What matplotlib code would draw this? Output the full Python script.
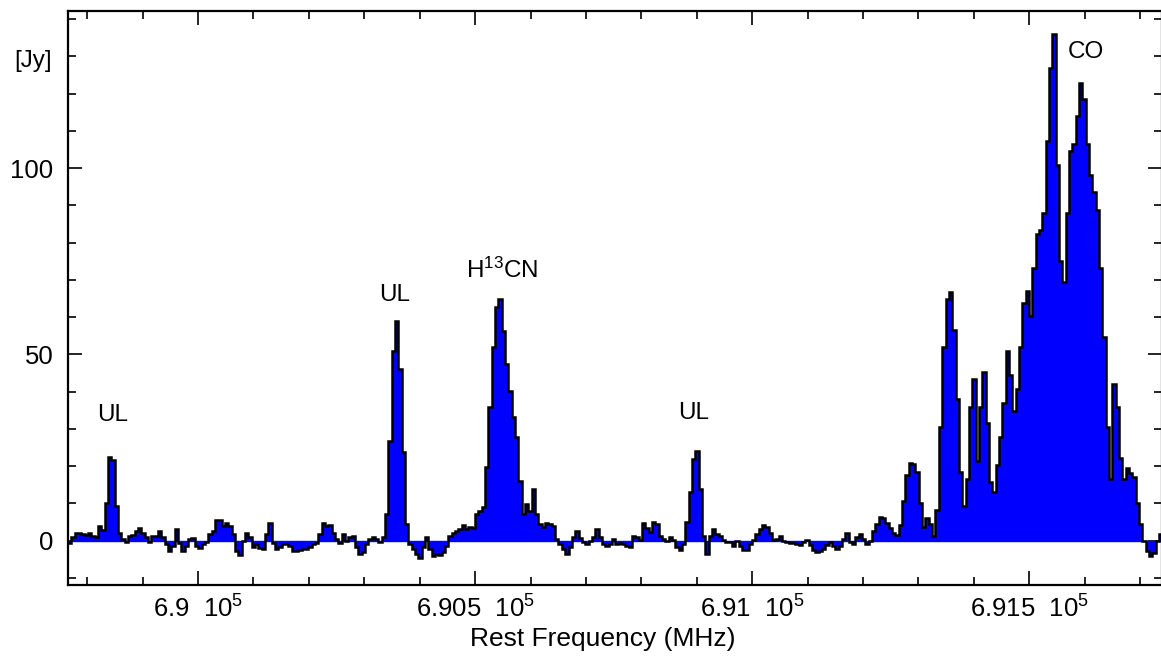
import numpy as np
import matplotlib
matplotlib.use("Agg")
import matplotlib.pyplot as plt
from matplotlib.ticker import MultipleLocator, FixedLocator, FixedFormatter

plt.rcParams['font.family'] = ['Liberation Sans', 'DejaVu Sans']
plt.rcParams['mathtext.fontset'] = 'custom'
plt.rcParams['mathtext.rm'] = 'Liberation Sans'
plt.rcParams['mathtext.it'] = 'Liberation Sans:italic'
plt.rcParams['mathtext.bf'] = 'Liberation Sans:bold'

# ---- spectral axis (MHz) ----
freq_start = 689765.5
chan_width = 6.02

# ---- flux density per channel (Jy), left to right ----
flux_seg1 = [-0.5, 1, 2, 2, 1.8, 1.5, 2, 1.3, 0.9, 4,
             3, 10, 22.5, 21.7, 9.4, 2, 0.5, -0.3, 1.3, 1.5,
             2.7, 3.3, 2.2, 0.9, -0.4, 1.3, 1.2, 2.7, 0.9, -0.9,
             -2.7, -1.3, 3.1, -0.5, -2.7, -1.3, 0.5, 0.8, -1.3, -2,
             -0.9, -0.3, 1.8, 2.7, 5.6, 5.6, 4, 4.7, 4, 1.8,
             -2.7, -3.8, 0, 2.2, 0.9, -1.8, -0.9, -2, -2.2, 1.8,
             4.7, -0.5, -2.2, -1.8, -1, -1, -1.3, -2.7, -2.7, -2.5,
             -2.3, -2.2, -1.8, -1, -0.5, 1.8, 4.7, 4, 4.2, 2.2,
             0.5, -0.5, 1.8, 0]
flux_seg2 = [0.9, 1.3, -1.8, -3.6, -3.1, -0.9, 0.4, 0.9, 0.4, -0.4,
             0.9, 7.2, 26.9, 51, 59, 46, 23.7, 4.5, -0.9, -2.2,
             -3.6, -4.5, -1.8, 0.9, -2.2, -4, -3.6, -3.8, -3.1, -1.3,
             1.3, 2.2, 2.7, 3.1, 4.3, 3.1, 3.6, 3.4, 7.2, 8,
             9, 19.7, 35.8, 52, 62.7, 65, 56.4, 47.4, 40.3, 33.1,
             27.8, 16.1, 7.2, 9.8, 8, 13.9, 7.2, 4.5, 3.6, 4.7,
             4.5, 4, 0.4, -0.9, -2.2, -3.6, -1.8, 0.9, 2.5, 0.7,
             -0.4, -0.9, 0, 0.9, 3.1, 1.1, -0.9, -1.3, -0.9, 0.4,
             -0.9]
flux_seg3 = [-0.6, -0.9, -1.5, -1.8, 1.3, 0.9, 0.3, 4.7, 3.5, 2.4,
             5.1, 4.5, 1.3, 0.6, 0, 0.9, 0.3, -1.8, -2.4, -0.9,
             4.9, 13, 21.9, 24.2, 13.9, 1.3, -3.6, 1.3, 3.1, 1.8,
             1.3, 0.3, -0.4, -0.4, -1.3, 0, -1.5, -2.4, -2.4, -0.9,
             0.3, 1.8, 3.1, 4.2, 3.6, 2.1, 0.3, 0.6, 1.2, 0,
             -0.4, -0.6, -0.6, -0.9, -1.2, -0.3, 0.3, -1.2, -2.4, -3.1,
             -2.7, -2.1, -1.2, -0.4, -1.3, -2.2, -1.3, 0.4, 2.1, -0.4,
             -0.9, 0.9, 1.8, 0.4, -0.9, 0, 2.7, 4.5, 6.5, 6,
             4.7, 3.3, 2.2, 1.5]
flux_seg4 = [4.2, 10.6, 17.6, 20.8, 20.6, 18.5, 10.2, 3.7, 6, 4.6,
             1.4, 8.3, 30.6, 51.9, 64.8, 66.7, 56.5, 38, 18.5, 9.3,
             16.7, 36, 43.5, 21.3, 36, 45.4, 31.5, 15.7, 13, 20.4,
             27.8, 37, 50.9, 44.4, 34.7, 40.7, 51.9, 63.9, 67.1, 60.2,
             73.1, 82.4, 83.3, 88, 107.4, 127, 136, 100.9, 75, 69.4,
             88, 104.6, 106.5, 113.9, 123, 118.5, 106.5, 98.1, 93.5, 88.9,
             73.1, 54.6, 30.6, 16.7, 42, 36, 22.2, 16.7, 19.4, 18.3,
             17.1, 10.2, 4.6, 0, -2.8, -4.2, -3.2, 0, 1.9]

# ---- line identifications: (label, frequency MHz, flux Jy) ----
line_names = ['UL', 'UL', 'H$^{13}$CN', 'UL', 'CO']
line_freqs = [689846.6, 690355.5, 690548.5, 690895.0, 691602.0]
line_levels = [33.8, 66.0, 72.6, 34.2, 131.3]

# ---- axis ticks ----
xtick_vals = [690000, 690500, 691000, 691500]
xtick_labels = ['6.9  10$^5$', '6.905  10$^5$', '6.91  10$^5$', '6.915  10$^5$']
ytick_vals = [0, 50, 100]
ytick_labels = ['0', '50', '100']

flux = np.array(flux_seg1 + flux_seg2 + flux_seg3 + flux_seg4, dtype=float)
edges = freq_start + chan_width * np.arange(len(flux) + 1)

W, H = 1161, 656
fig = plt.figure(figsize=(W / 100, H / 100), dpi=100)
left, right, top, bottom = 68, 1162, 11, 584.7
ax = fig.add_axes([left / W, 1 - bottom / H, (right - left) / W, (bottom - top) / H])

blue = '#0000ff'
ax.stairs(flux, edges, baseline=0, fill=True, color=blue, lw=0, zorder=2)
ax.axhline(0, color=blue, lw=1.0, zorder=2.5)
ax.stairs(flux, edges, baseline=None, color='black', lw=1.8, zorder=3)

ax.set_xlim(689765.4, 691739.4)
ax.set_ylim(-11.8, 142.2)

fs = 17.5
fs_ticks = 18.5
ax.xaxis.set_major_locator(FixedLocator(xtick_vals))
ax.xaxis.set_major_formatter(FixedFormatter(xtick_labels))
ax.xaxis.set_minor_locator(MultipleLocator(100))
ax.yaxis.set_major_locator(FixedLocator(ytick_vals))
ax.yaxis.set_major_formatter(FixedFormatter(ytick_labels))
ax.yaxis.set_minor_locator(MultipleLocator(10))

ax.tick_params(which='both', direction='in', top=True, right=True,
               width=1.2, color='black', labelsize=fs_ticks)
ax.tick_params(which='major', length=10)
ax.tick_params(which='minor', length=5.5)
ax.tick_params(axis='y', which='major', pad=10.5)
ax.tick_params(axis='x', which='major', pad=7.5)

for sp in ax.spines.values():
    sp.set_linewidth(1.6)
    sp.set_color('black')

ax.set_xlabel('Rest Frequency (MHz)', fontsize=19)
ax.xaxis.set_label_coords((602.5 - left) / (right - left), -(627 - bottom) / (bottom - top))
ax.xaxis.label.set_va('top')

ax.text((33.3 - left) / (right - left), (bottom - 61) / (bottom - top), '[Jy]',
        transform=ax.transAxes, ha='center', va='center', fontsize=fs)

for name, fr, lev in zip(line_names, line_freqs, line_levels):
    ax.text(fr, lev, name, ha='center', va='center', fontsize=fs, zorder=4)

fig.savefig('out.png', dpi=100)
